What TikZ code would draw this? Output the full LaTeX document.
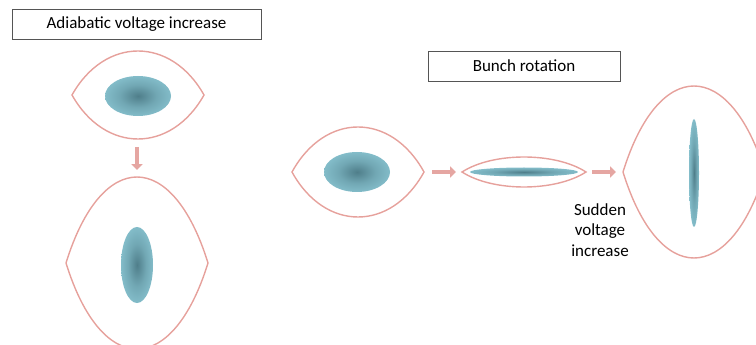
\documentclass[tikz,border=0pt]{standalone}
\usepackage{fontspec}
\setmainfont{Carlito}
\usetikzlibrary{arrows.meta}
\definecolor{eyered}{HTML}{E6A19C}
\definecolor{arrowred}{HTML}{E5A6A2}
\definecolor{bunchdark}{HTML}{4F7E8A}
\definecolor{bunchlight}{HTML}{94D1DE}
\definecolor{boxgray}{HTML}{555555}
\pgfdeclareradialshading{bunch}{\pgfpointorigin}{color(0bp)=(bunchdark); color(14bp)=(bunchdark!50!bunchlight); color(34bp)=(bunchlight!95!bunchdark); color(50bp)=(bunchlight)}
\tikzset{>=Triangle}
% separatrix drawn as two bezier arcs: centre x, centre y, half width, half height
\newcommand{\eyeshape}[4]{%
  \draw[eye] (#1-#3,#2) .. controls (#1-#3/2,#2-4*#4/3) and (#1+#3/2,#2-4*#4/3) .. (#1+#3,#2)
    .. controls (#1+#3/2,#2+4*#4/3) and (#1-#3/2,#2+4*#4/3) .. cycle;}

\begin{document}
\begin{tikzpicture}[x=0.03cm, y=-0.03cm,
    eye/.style={draw=eyered, line width=1.2pt},
    beam/.style={shading=bunch},
    blockarrow/.style={->, draw=arrowred, line width=4.2pt, arrows={-Triangle[length=5pt, width=9.5pt, fill=arrowred]}},
    titlebox/.style={draw=boxgray, line width=0.8pt, fill=white, inner sep=0pt, font=\fontsize{14.5}{17}\selectfont}]
    \useasboundingbox (0,0) rectangle (756,345);
    \clip (0,0) rectangle (756,345);
    \node[titlebox, minimum width=7.47cm, minimum height=0.9cm] (adiabatic) at (136.5,24) {Adiabatic voltage increase};
    \node[titlebox, minimum width=5.76cm, minimum height=0.9cm] (rotation) at (524,66) {Bunch rotation};
    % adiabatic
    \eyeshape{138}{95}{66}{44}
    \shade[beam] (138,96) ellipse [x radius=33, y radius=20];
    \eyeshape{137}{263}{71}{86}
    \shade[beam] (137,265) ellipse [x radius=16, y radius=38];
    % rotation
    \eyeshape{358}{172}{66}{45}
    \shade[beam] (357,172) ellipse [x radius=33, y radius=20];
    \eyeshape{524}{172}{62}{15}
    \shade[beam] (524,172) ellipse [x radius=54, y radius=4.5];
    \eyeshape{694}{172}{71}{86}
    \shade[beam] (694,173) ellipse [x radius=5, y radius=54];
    %\draw[help lines] (0,0) grid[step=50] (756,345);
    \coordinate (d1a) at (137,147);
    \coordinate (d1b) at (137,170);
    \coordinate (r1a) at (432,172);
    \coordinate (r1b) at (456,172);
    \coordinate (r2a) at (592,172);
    \coordinate (r2b) at (616,172);
    \draw[blockarrow] (d1a) -- (d1b);
    \draw[blockarrow] (r1a) -- (r1b);
    \draw[blockarrow] (r2a) -- (r2b);
    \node[align=center, font=\fontsize{14.5}{17.5}\selectfont] (sudden) at (600,230) {Sudden\\voltage\\increase};
\end{tikzpicture}
\end{document}
